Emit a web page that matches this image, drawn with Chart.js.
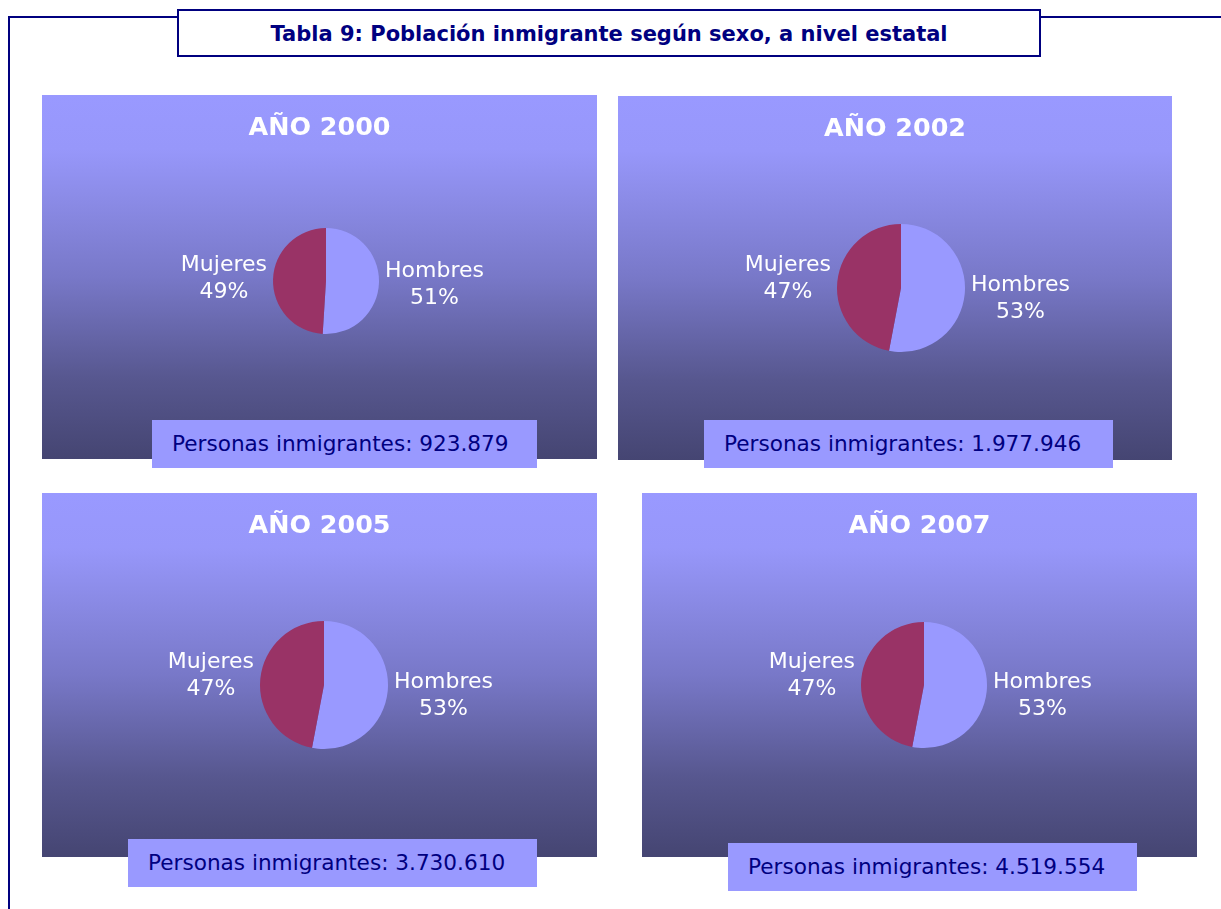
<!DOCTYPE html>
<html>
<head>
<meta charset="utf-8">
<script src="https://cdn.jsdelivr.net/npm/chart.js@4"></script>
<style>
  html, body { margin: 0; padding: 0; background: #fff; }
  body { width: 1221px; height: 909px; position: relative; overflow: hidden; font-family: "DejaVu Sans", Verdana, sans-serif; }
  .frame { position: absolute; left: 8px; top: 16px; width: 1300px; height: 1000px; border-left: 2px solid #00007f; border-top: 2px solid #00007f; }
  .mainTitle { position: absolute; left: 177px; top: 9px; width: 860px; height: 44px; border: 2px solid #00007f; background: #fff;
    color: #000080; font-weight: bold; font-size: 21px; text-align: center; line-height: 46px; }
  .panel { position: absolute; background: linear-gradient(to bottom, #9999ff 0%, #9797fa 15%, #7878c8 50%, #57578f 78%, #454572 100%); }
  .panel canvas { position: absolute; left: 0; top: 0; }
  .year { position: absolute; left: 0; width: 100%; text-align: center; color: #fff; font-weight: bold; font-size: 25.4px; top: 16px; }
  .total { position: absolute; height: 48px; background: #9999ff; color: #000080; font-size: 21.6px; line-height: 48px; padding-left: 20px; box-sizing: border-box; }
</style>
</head>
<body>
<div class="frame"></div>
<div class="mainTitle">Tabla 9: Población inmigrante según sexo, a nivel estatal</div>
<div id="panels"></div>
<script>
// datos
const years = ['AÑO 2000', 'AÑO 2002', 'AÑO 2005', 'AÑO 2007'];
const categories = ['Hombres', 'Mujeres'];
const hombresPct = [51, 53, 53, 53];
const mujeresPct = [49, 47, 47, 47];
const totals = ['923.879', '1.977.946', '3.730.610', '4.519.554'];

// disposicion de cada panel (x, y, ancho, alto, centro de la tarta, radio, caja inferior)
const layout = [
  { x: 42,  y: 95, w: 555, h: 364, cx: 284, cy: 186, r: 53, bx: 152, by: 420, bw: 385 },
  { x: 618, y: 96, w: 554, h: 364, cx: 283, cy: 192, r: 64, bx: 704, by: 420, bw: 409 },
  { x: 42,  y: 493, w: 555, h: 364, cx: 282, cy: 192, r: 64, bx: 128, by: 839, bw: 409 },
  { x: 642, y: 493, w: 555, h: 364, cx: 282, cy: 192, r: 63, bx: 728, by: 843, bw: 409 }
];

// etiquetas fuera de la tarta: nombre + porcentaje
const outsideLabels = {
  id: 'outsideLabels',
  afterDatasetsDraw(chart) {
    const ctx = chart.ctx;
    const meta = chart.getDatasetMeta(0);
    const values = chart.data.datasets[0].data;
    ctx.save();
    ctx.font = '22px "DejaVu Sans", Verdana, sans-serif';
    ctx.fillStyle = '#ffffff';
    ctx.textAlign = 'center';
    ctx.textBaseline = 'middle';
    meta.data.forEach((arc, i) => {
      const p = arc.getProps(['x', 'y', 'startAngle', 'endAngle', 'outerRadius'], true);
      const mid = (p.startAngle + p.endAngle) / 2;
      const lines = [chart.data.labels[i], values[i] + '%'];
      const w = Math.max(...lines.map(t => ctx.measureText(t).width));
      const gap = 6;
      const lx = Math.cos(mid) >= 0 ? p.x + p.outerRadius + gap + w / 2 : p.x - p.outerRadius - gap - w / 2;
      const ly = p.y + (p.outerRadius + 42) * Math.sin(mid) + 1;
      ctx.fillText(lines[0], lx, ly - 13.5);
      ctx.fillText(lines[1], lx, ly + 13.5);
    });
    ctx.restore();
  }
};

const container = document.getElementById('panels');

years.forEach((year, k) => {
  const L = layout[k];
  const panel = document.createElement('div');
  panel.className = 'panel';
  panel.style.left = L.x + 'px';
  panel.style.top = L.y + 'px';
  panel.style.width = L.w + 'px';
  panel.style.height = L.h + 'px';

  const canvas = document.createElement('canvas');
  canvas.width = L.w;
  canvas.height = L.h;
  panel.appendChild(canvas);

  const title = document.createElement('div');
  title.className = 'year';
  title.textContent = year;
  panel.appendChild(title);
  container.appendChild(panel);

  const box = document.createElement('div');
  box.className = 'total';
  box.style.left = L.bx + 'px';
  box.style.top = L.by + 'px';
  box.style.width = L.bw + 'px';
  box.textContent = 'Personas inmigrantes: ' + totals[k];
  container.appendChild(box);

  // padding para centrar la tarta donde esta en el original
  const padding = {
    left: Math.max(0, 2 * L.cx - L.w),
    right: Math.max(0, L.w - 2 * L.cx),
    top: Math.max(0, 2 * L.cy - L.h),
    bottom: Math.max(0, L.h - 2 * L.cy)
  };

  new Chart(canvas.getContext('2d'), {
    type: 'pie',
    data: {
      labels: categories,
      datasets: [{
        data: [hombresPct[k], mujeresPct[k]],
        backgroundColor: ['#9999ff', '#993366'],
        borderWidth: 0
      }]
    },
    options: {
      responsive: false,
      animation: false,
      radius: L.r,
      layout: { padding: padding },
      plugins: {
        legend: { display: false },
        tooltip: { enabled: false },
        title: { display: false }
      }
    },
    plugins: [outsideLabels]
  });
});
</script>
</body>
</html>
